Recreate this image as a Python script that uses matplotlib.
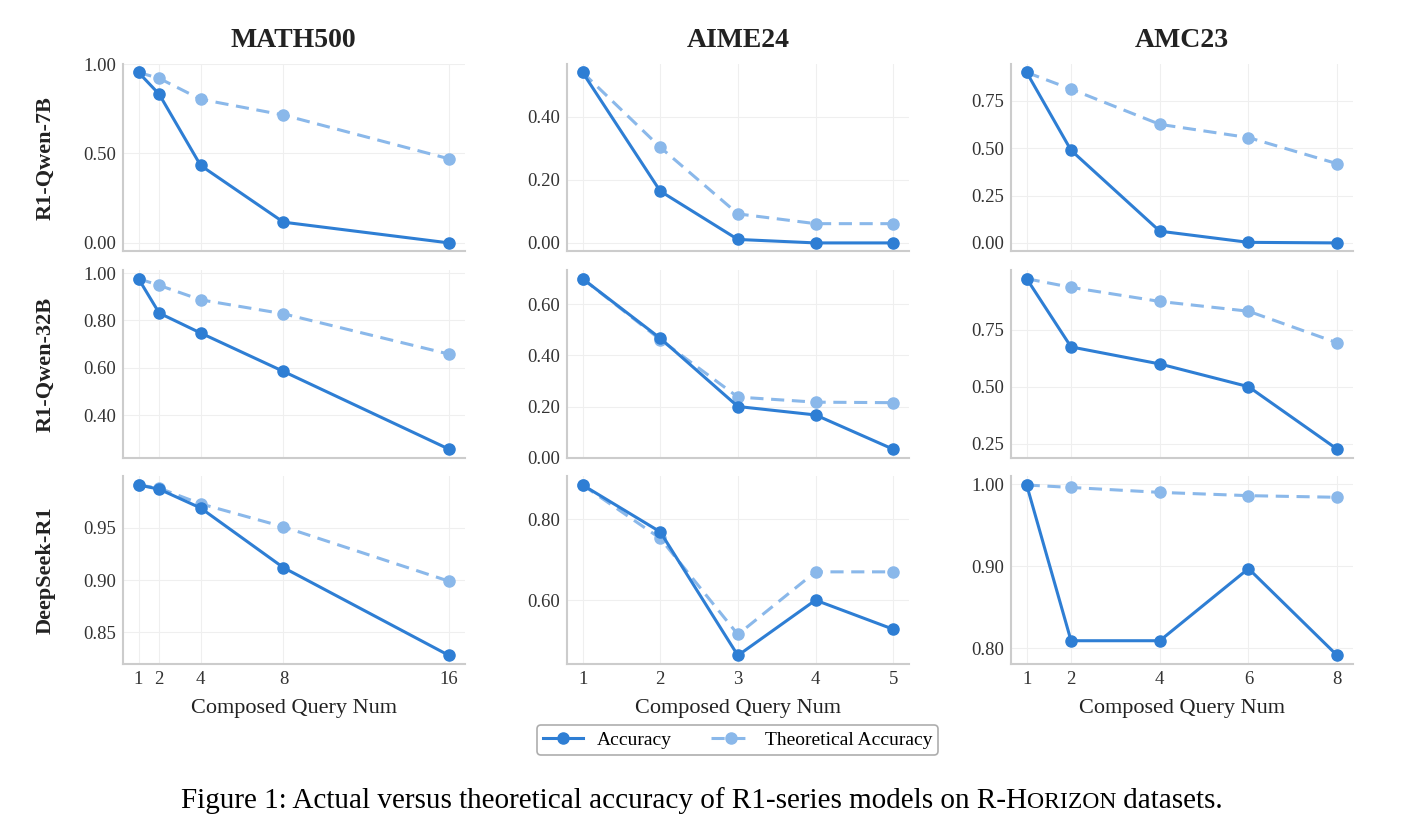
import matplotlib
matplotlib.use("Agg")
import matplotlib.pyplot as plt
from matplotlib.offsetbox import TextArea, HPacker, AnchoredOffsetbox

plt.rcParams['font.family'] = ['Liberation Serif', 'DejaVu Serif']

datasets = ["MATH500", "AIME24", "AMC23"]
models = ["R1-Qwen-7B", "R1-Qwen-32B", "DeepSeek-R1"]

# composed query numbers per dataset
x_math = [1, 2, 4, 8, 16]
x_aime = [1, 2, 3, 4, 5]
x_amc = [1, 2, 4, 6, 8]

# R1-Qwen-7B
acc_7b_math = [0.953, 0.831, 0.433, 0.116, 0.000]
theo_7b_math = [0.953, 0.920, 0.803, 0.715, 0.470]
acc_7b_aime = [0.540, 0.164, 0.011, 0.000, 0.000]
theo_7b_aime = [0.540, 0.303, 0.092, 0.061, 0.061]
acc_7b_amc = [0.900, 0.489, 0.062, 0.003, 0.000]
theo_7b_amc = [0.900, 0.812, 0.626, 0.556, 0.418]

# R1-Qwen-32B
acc_32b_math = [0.976, 0.831, 0.747, 0.585, 0.257]
theo_32b_math = [0.976, 0.948, 0.887, 0.828, 0.658]
acc_32b_aime = [0.700, 0.467, 0.200, 0.167, 0.033]
theo_32b_aime = [0.700, 0.462, 0.237, 0.217, 0.215]
acc_32b_amc = [0.975, 0.675, 0.600, 0.500, 0.225]
theo_32b_amc = [0.975, 0.937, 0.875, 0.832, 0.693]

# DeepSeek-R1
acc_r1_math = [0.991, 0.987, 0.969, 0.912, 0.828]
theo_r1_math = [0.991, 0.988, 0.973, 0.951, 0.899]
acc_r1_aime = [0.885, 0.769, 0.463, 0.600, 0.528]
theo_r1_aime = [0.885, 0.753, 0.515, 0.670, 0.670]
acc_r1_amc = [0.999, 0.809, 0.809, 0.897, 0.791]
theo_r1_amc = [0.999, 0.996, 0.990, 0.986, 0.984]

xs = [x_math, x_aime, x_amc]
acc = [[acc_7b_math, acc_7b_aime, acc_7b_amc],
       [acc_32b_math, acc_32b_aime, acc_32b_amc],
       [acc_r1_math, acc_r1_aime, acc_r1_amc]]
theo = [[theo_7b_math, theo_7b_aime, theo_7b_amc],
        [theo_32b_math, theo_32b_aime, theo_32b_amc],
        [theo_r1_math, theo_r1_aime, theo_r1_amc]]

yticks = [[[0.0, 0.5, 1.0], [0.0, 0.2, 0.4], [0.0, 0.25, 0.5, 0.75]],
          [[0.4, 0.6, 0.8, 1.0], [0.0, 0.2, 0.4, 0.6], [0.25, 0.5, 0.75]],
          [[0.85, 0.90, 0.95], [0.6, 0.8], [0.8, 0.9, 1.0]]]

c_acc = "#2E7ED4"
c_theo = "#8AB8EA"

fig, axes = plt.subplots(3, 3, figsize=(14.04, 8.30), dpi=100)
fig.subplots_adjust(left=0.0876, right=0.9635, top=0.923, bottom=0.2,
                    wspace=0.30, hspace=0.10)

for i in range(3):
    for j in range(3):
        ax = axes[i, j]
        ax.plot(xs[j], theo[i][j], color=c_theo, lw=2.2, ls=(0, (4.3, 2.5)),
                marker='o', ms=8, label="Theoretical Accuracy", zorder=2)
        ax.plot(xs[j], acc[i][j], color=c_acc, lw=2.2, marker='o', ms=8,
                label="Accuracy", zorder=3)
        ax.set_xticks(xs[j])
        ax.set_yticks(yticks[i][j])
        ax.yaxis.set_major_formatter(plt.FormatStrFormatter('%.2f'))
        ax.grid(True, color="#efefef", lw=0.8)
        ax.set_axisbelow(True)
        for s in ["top", "right"]:
            ax.spines[s].set_visible(False)
        for s in ["left", "bottom"]:
            ax.spines[s].set_color("#cccccc")
            ax.spines[s].set_linewidth(1.5)
        ax.tick_params(length=0, labelsize=13.5, colors="#333333", pad=5)
        if i < 2:
            ax.tick_params(labelbottom=False)
        else:
            ax.set_xlabel("Composed Query Num", fontsize=16, color="#222222", labelpad=8)
        if i == 0:
            ax.set_title(datasets[j], fontsize=20, fontweight='bold', pad=12, color="#222222")

for i in range(3):
    pos = axes[i, 0].get_position()
    fig.text(46 / 1404, (pos.y0 + pos.y1) / 2, models[i], rotation=90,
             ha='center', va='center', fontsize=16, fontweight='bold', color="#222222")

h, l = axes[0, 0].get_legend_handles_labels()
leg = fig.legend(h[::-1], l[::-1], loc='center', bbox_to_anchor=(0.5255, 0.1085),
                 ncol=2, fontsize=14, frameon=True, fancybox=True,
                 edgecolor="#999999", handlelength=2.05, handletextpad=0.72,
                 columnspacing=2.0, borderpad=0.3)
leg.get_frame().set_linewidth(1.2)

# caption with small caps
parts = [TextArea("Figure 1: Actual versus theoretical accuracy of R1-series models on R-H",
                  textprops=dict(fontsize=21, color="black")),
         TextArea("ORIZON", textprops=dict(fontsize=17, color="black")),
         TextArea(" datasets.", textprops=dict(fontsize=21, color="black"))]
box = HPacker(children=parts, align="baseline", pad=0, sep=0)
anch = AnchoredOffsetbox(loc='center', child=box, bbox_to_anchor=(0.5, 0.035),
                         bbox_transform=fig.transFigure, frameon=False, pad=0, borderpad=0)
fig.add_artist(anch)

fig.savefig("out.png", dpi=100, facecolor="white")
